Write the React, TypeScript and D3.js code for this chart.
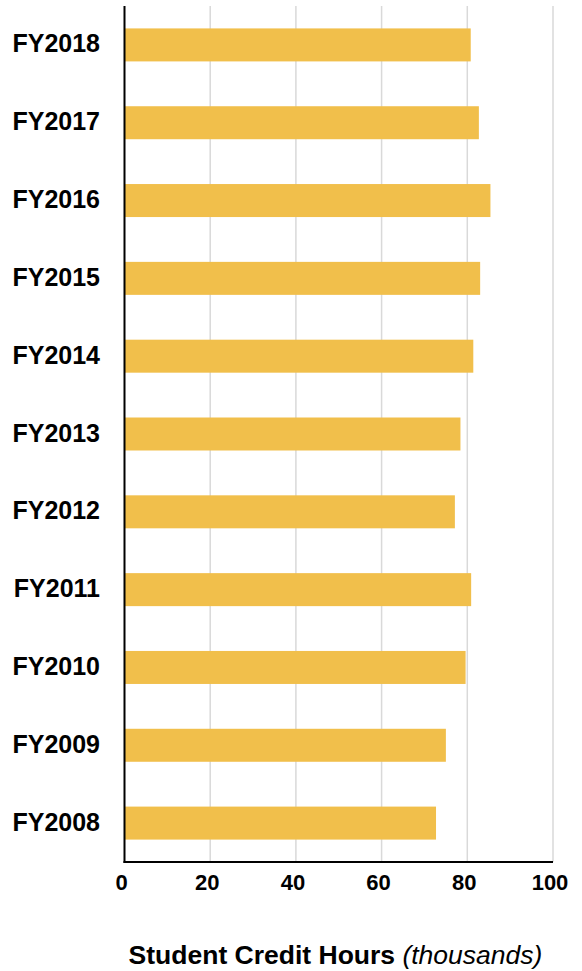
import React from "react";
import * as d3 from "d3";

const categories = ["FY2018","FY2017","FY2016","FY2015","FY2014","FY2013","FY2012","FY2011","FY2010","FY2009","FY2008"];
const values = [80.8, 82.7, 85.4, 83.0, 81.4, 78.4, 77.1, 80.9, 79.6, 75.0, 72.7];
const xTicks = [0, 20, 40, 60, 80, 100];

export default function App() {
  const W = 582, H = 971;
  const left = 124.5, right = 553, top = 6, bottom = 862;
  const x = d3.scaleLinear().domain([0, 100]).range([left, right]);
  const y = d3.scaleBand().domain(categories).range([top, bottom]).paddingInner(0.576).paddingOuter(0.288);
  const font = "Liberation Sans, Arial, sans-serif";
  return (
    <svg width={W} height={H} style={{ position: "absolute", left: 0, top: 0 }}>
      <rect width={W} height={H} fill="#fff" />
      {xTicks.slice(1).map(t => (
        <line key={t} x1={x(t)} x2={x(t)} y1={top} y2={bottom} stroke="#d9d9d9" strokeWidth={1.5} />
      ))}
      {categories.map((c, i) => (
        <rect key={c} x={x(0)} y={y(c)} width={x(values[i]) - x(0)} height={y.bandwidth()} fill="#F1BF4B" />
      ))}
      <line x1={x(0)} x2={x(0)} y1={top} y2={bottom + 1} stroke="#000" strokeWidth={2} />
      <line x1={x(0) - 1} x2={right} y1={bottom} y2={bottom} stroke="#000" strokeWidth={2} />
      {categories.map(c => (
        <text key={c} x={100} y={(y(c) as number) + y.bandwidth() / 2} dy="0.3em" textAnchor="end"
          fontFamily={font} fontWeight="bold" fontSize={25} fill="#000">{c}</text>
      ))}
      {xTicks.map(t => (
        <text key={t} x={x(t) - 3} y={890} textAnchor="middle" fontFamily={font} fontWeight="bold" fontSize={22} fill="#000">{t}</text>
      ))}
      <text x={335.5} y={964} textAnchor="middle" fontFamily={font} fontSize={26.5} fill="#000">
        <tspan fontWeight="bold">Student Credit Hours </tspan>
        <tspan fontStyle="italic">(thousands)</tspan>
      </text>
    </svg>
  );
}
